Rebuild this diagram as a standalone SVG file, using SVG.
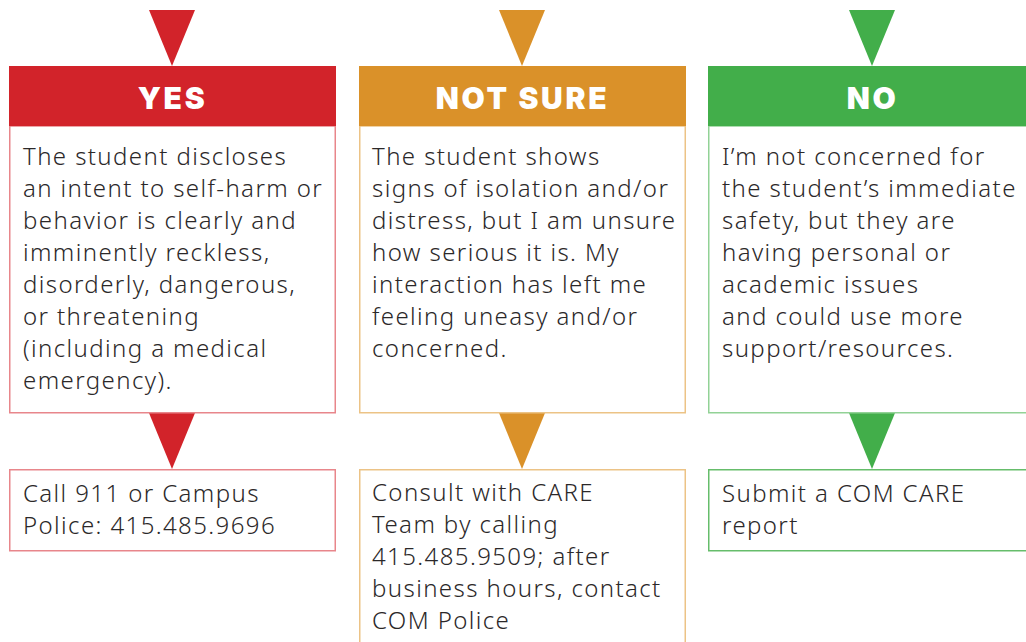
<svg xmlns="http://www.w3.org/2000/svg" width="1026" height="642" viewBox="0 0 1026 642">
  <style>
    .body { font-family: "Noto Sans", "Open Sans", "Liberation Sans", sans-serif; font-weight: 300; font-size: 24px; letter-spacing: 1.4px; fill: #2b2829; }
    .head { font-family: "Inter", "Lato", "Liberation Sans", sans-serif; font-weight: 900; font-size: 30px; fill: #ffffff; letter-spacing: 2.7px; text-anchor: middle; }
    .red { fill: #d2232a; }
    .orange { fill: #da9129; }
    .green { fill: #42ae4a; }
    .box { fill: #ffffff; stroke-width: 1.5; }
    .box.red-b { stroke: #e8868b; }
    .box.orange-b { stroke: #ecc386; }
    .box.green-b { stroke: #92d296; }
    .box.green-b2 { stroke: #66bd6b; }
  </style>

  <!-- incoming arrows into each category -->
  <g id="connectors">
    <polygon class="red" points="149,10 195,10 172,66"/>
    <polygon class="orange" points="499,10 545,10 522,66"/>
    <polygon class="green" points="849,10 895,10 872,66"/>
    <polygon class="red" points="149,413 195,413 172,469"/>
    <polygon class="orange" points="499,413 545,413 522,469"/>
    <polygon class="green" points="849,413 895,413 872,469"/>
  </g>

  <!-- YES column -->
  <g id="yes-situation">
    <rect class="box red-b" x="9.75" y="126" width="325.5" height="286.75"/>
    <rect class="red" x="9" y="66" width="327" height="60"/>
    <text class="head" x="172.5" y="108.5">YES</text>
    <text class="body">
      <tspan x="23" y="165">The student discloses</tspan>
      <tspan x="23" y="197">an intent to self-harm or</tspan>
      <tspan x="23" y="229">behavior is clearly and</tspan>
      <tspan x="23" y="261">imminently reckless,</tspan>
      <tspan x="23" y="293">disorderly, dangerous,</tspan>
      <tspan x="23" y="325">or threatening</tspan>
      <tspan x="23" y="357">(including a medical</tspan>
      <tspan x="23" y="389">emergency).</tspan>
    </text>
  </g>
  <g id="yes-action">
    <rect class="box red-b" x="9.75" y="469.75" width="325.5" height="81"/>
    <text class="body">
      <tspan x="23" y="502">Call 911 or Campus</tspan>
      <tspan x="23" y="534">Police: 415.485.9696</tspan>
    </text>
  </g>

  <!-- NOT SURE column -->
  <g id="notsure-situation">
    <rect class="box orange-b" x="359.75" y="126" width="325.5" height="286.75"/>
    <rect class="orange" x="359" y="66" width="327" height="60"/>
    <text class="head" x="522.5" y="108.5">NOT SURE</text>
    <text class="body">
      <tspan x="372" y="165">The student shows</tspan>
      <tspan x="372" y="197">signs of isolation and/or</tspan>
      <tspan x="372" y="229">distress, but I am unsure</tspan>
      <tspan x="372" y="261">how serious it is. My</tspan>
      <tspan x="372" y="293">interaction has left me</tspan>
      <tspan x="372" y="325">feeling uneasy and/or</tspan>
      <tspan x="372" y="357">concerned.</tspan>
    </text>
  </g>
  <g id="notsure-action">
    <rect class="box orange-b" x="359.75" y="469.75" width="325.5" height="190"/>
    <text class="body">
      <tspan x="372" y="501">Consult with CARE</tspan>
      <tspan x="372" y="533">Team by calling</tspan>
      <tspan x="372" y="565">415.485.9509; after</tspan>
      <tspan x="372" y="597">business hours, contact</tspan>
      <tspan x="372" y="629">COM Police</tspan>
    </text>
  </g>

  <!-- NO column -->
  <g id="no-situation">
    <rect class="box green-b" x="708.75" y="126" width="340" height="286.75"/>
    <rect class="green" x="708" y="66" width="340" height="60"/>
    <text class="head" x="872.5" y="108.5">NO</text>
    <text class="body">
      <tspan x="722" y="165">I’m not concerned for</tspan>
      <tspan x="722" y="197">the student’s immediate</tspan>
      <tspan x="722" y="229">safety, but they are</tspan>
      <tspan x="722" y="261">having personal or</tspan>
      <tspan x="722" y="293">academic issues</tspan>
      <tspan x="722" y="325">and could use more</tspan>
      <tspan x="722" y="357">support/resources.</tspan>
    </text>
  </g>
  <g id="no-action">
    <rect class="box green-b2" x="708.75" y="469.75" width="340" height="81"/>
    <text class="body">
      <tspan x="722" y="502">Submit a COM CARE</tspan>
      <tspan x="722" y="534">report</tspan>
    </text>
  </g>
</svg>
